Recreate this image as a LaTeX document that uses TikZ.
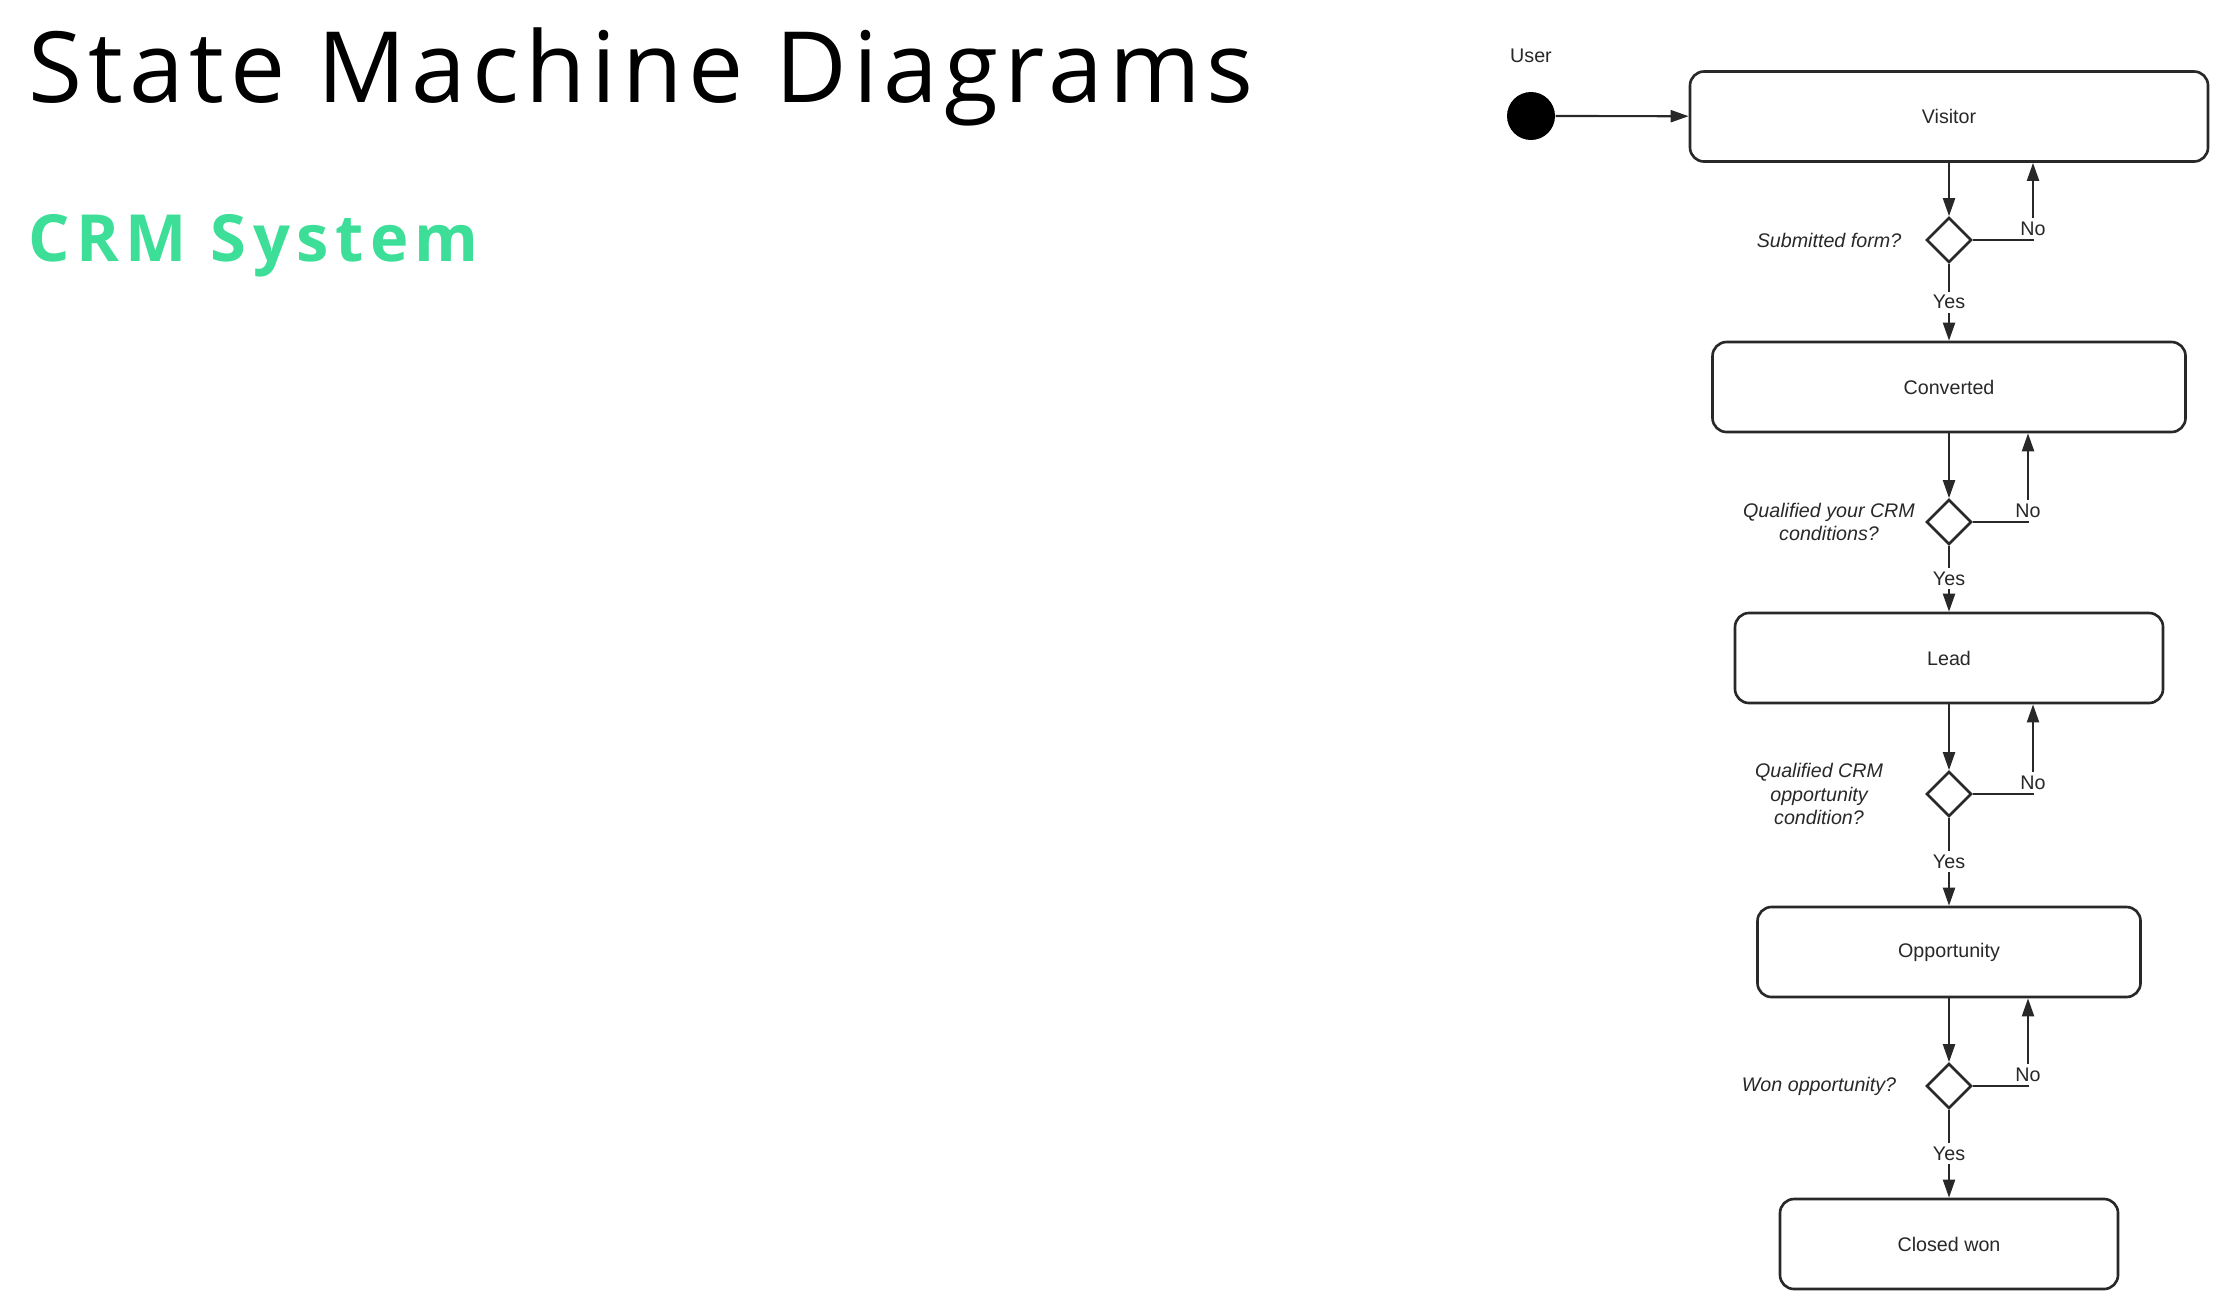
\documentclass[tikz,border=0pt]{standalone}
\usepackage{fontspec}
\setmainfont{Liberation Sans}
\newfontfamily\headfont[LetterSpace=6]{Open Sans}
\newfontfamily\subfont[LetterSpace=10]{Open Sans}
\usepackage{xcolor}
\usetikzlibrary{arrows.meta,positioning,shapes.geometric}
\definecolor{crmgreen}{RGB}{60,222,152}
\definecolor{ink}{RGB}{40,40,40}
\tikzset{
	flow/.style={-{Triangle[length=1.8mm,width=1.2mm]}, line width=0.62pt, draw=ink}, % connectors
	on grid,
	small/.style={font=\fontsize{5.6}{6.8}\selectfont, text=ink},
	crmstate/.style={small, draw=ink, rounded corners=0.14cm, line width=0.75pt, minimum height=0.9cm},
	choice/.style={draw=ink, diamond, minimum width=0.45cm, minimum height=0.45cm, inner sep=0pt, line width=0.75pt},
	guard/.style={small, font=\fontsize{5.6}{6.8}\selectfont\itshape, align=center},
	answer/.style={small, fill=white, inner sep=1pt},
}
\begin{document}
\begin{tikzpicture}
      \useasboundingbox (0,0) rectangle (22.14,-13.07);
      \node[anchor=base west, inner sep=0pt, font=\headfont\fontsize{28}{34}\selectfont] (title) at (0.28,-1.02) {State Machine Diagrams};
      \node[anchor=base west, inner sep=0pt, text=crmgreen, font=\subfont\bfseries\fontsize{18.5}{22}\selectfont] (sub) at (0.28,-2.61) {CRM System};

      \node[circle, fill=black, minimum size=0.48cm, inner sep=0pt] (init) at (15.31,-1.16) {};
      \node[small, above=0.6 of init] (user) {User};

      \node[crmstate, minimum width=5.18cm] (visitor) at (19.49,-1.165) {Visitor};
      \node[choice, below=1.235 of visitor] (d1) {};
      \node[crmstate, minimum width=4.73cm, below=1.47 of d1] (converted) {Converted};
      \node[choice, below=1.35 of converted] (d2) {};
      \node[crmstate, minimum width=4.28cm, below=1.36 of d2] (lead) {Lead};
      \node[choice, below=1.36 of lead] (d3) {};
      \node[crmstate, minimum width=3.83cm, below=1.58 of d3] (opportunity) {Opportunity};
      \node[choice, below=1.34 of opportunity] (d4) {};
      \node[crmstate, minimum width=3.38cm, below=1.58 of d4] (closed) {Closed won};

      \node[guard, left=1.2 of d1] (g1) {Submitted form?};
      \node[guard, left=1.2 of d2] (g2) {Qualified your CRM\\conditions?};
      \node[guard, left=1.3 of d3] (g3) {Qualified CRM\\opportunity\\condition?};
      \node[guard, left=1.3 of d4] (g4) {Won opportunity?};

      \draw[flow] (init) -- (visitor);

      \draw[flow] (visitor) -- (d1);
      \draw[flow] (d1) -- node[answer]{Yes} (converted);
      \draw[flow] (d1.east) -| node[answer, pos=0.5, anchor=south]{No} ([xshift=0.84cm]visitor.south);

      \draw[flow] (converted) -- (d2);
      \draw[flow] (d2) -- node[answer]{Yes} (lead);
      \draw[flow] (d2.east) -| node[answer, pos=0.5, anchor=south]{No} ([xshift=0.79cm]converted.south);

      \draw[flow] (lead) -- (d3);
      \draw[flow] (d3) -- node[answer]{Yes} (opportunity);
      \draw[flow] (d3.east) -| node[answer, pos=0.5, anchor=south]{No} ([xshift=0.84cm]lead.south);

      \draw[flow] (opportunity) -- (d4);
      \draw[flow] (d4) -- node[answer]{Yes} (closed);
      \draw[flow] (d4.east) -| node[answer, pos=0.5, anchor=south]{No} ([xshift=0.79cm]opportunity.south);
\end{tikzpicture}
\end{document}
